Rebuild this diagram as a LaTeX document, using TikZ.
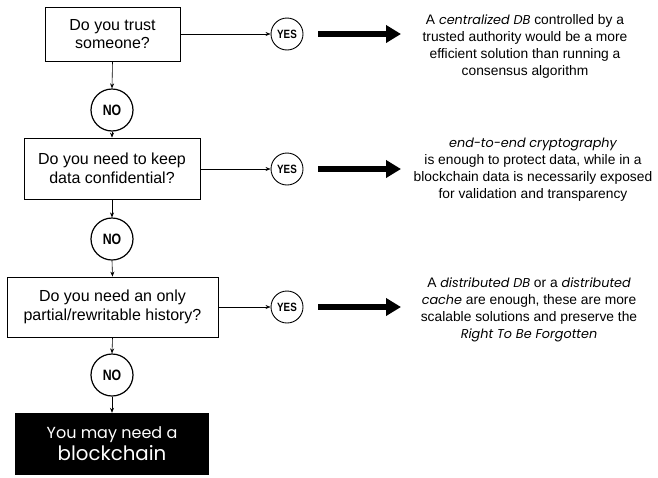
\documentclass[tikz,border=0pt]{standalone}
\usepackage{fontspec}
\setmainfont{Liberation Sans}
\newfontfamily\roundfont{Poppins}
\newfontfamily\condfont[FakeStretch=0.82]{Liberation Sans}
\usetikzlibrary{arrows.meta}
\newcommand{\rit}[1]{{\roundfont\itshape\fontsize{12.8}{17}\selectfont #1}}
\tikzset{
  question/.style={draw=black, line width=0.8pt, align=center, inner sep=0pt,
    font=\fontsize{16}{18.5}\selectfont},
  nobubble/.style={draw=black, circle, line width=1.2pt, minimum size=42pt, inner sep=0pt,
    font=\condfont\bfseries\fontsize{15}{15}\selectfont},
  yesbubble/.style={draw=black, circle, line width=0.9pt, minimum size=32pt, inner sep=0pt,
    font=\condfont\bfseries\fontsize{12}{12}\selectfont},
  answer/.style={align=center, inner sep=0pt, font=\fontsize{13.8}{17}\selectfont},
  flow/.style={-{Stealth[length=5pt,width=4pt]}, line width=0.6pt},
  bigarrow/.style={-{Triangle[length=15pt,width=17pt]}, line width=6pt},
}
\begin{document}
\begin{tikzpicture}[x=1pt, y=-1pt]
  \useasboundingbox (0,0) rectangle (658,477);

  % questions
  \node[question, minimum width=135pt, minimum height=54pt] (q1) at (112.5,34) {Do you trust\\someone?};
  \node[question, minimum width=176pt, minimum height=61pt] (q2) at (112,168.5) {Do you need to keep\\data confidential?};
  \node[question, minimum width=211pt, minimum height=60pt] (q3) at (112.5,307) {Do you need an only\\partial/rewritable history?};

  % NO bubbles
  \node[nobubble] (n1) at (112,110) {NO};
  \node[nobubble] (n2) at (112,239) {NO};
  \node[nobubble] (n3) at (112,375) {NO};

  % final box
  \node[fill=black, minimum width=194pt, minimum height=62pt, inner sep=0pt, align=center,
        text=white, font=\roundfont] (fin) at (112,444)
        {{\fontsize{16}{20}\selectfont You may need a}\\[2pt]{\fontsize{19.8}{24}\selectfont blockchain}};

  % YES bubbles
  \node[yesbubble] (y1) at (287,34) {YES};
  \node[yesbubble] (y2) at (287,169) {YES};
  \node[yesbubble] (y3) at (287,307) {YES};

  % answers
  \node[answer] (a1) at (525,46) {A \rit{centralized DB} controlled by a\\trusted authority would be a more\\efficient solution than running a\\consensus algorithm};
  \node[answer] (a2) at (533,170) {\rit{end-to-end cryptography}\\is enough to protect data, while in a\\blockchain data is necessarily exposed\\for validation and transparency};
  \node[answer] (a3) at (529,310) {A \rit{distributed DB} or a \rit{distributed}\\\rit{cache} are enough, these are more\\scalable solutions and preserve the\\\rit{Right To Be Forgotten}};

  % arrow ends next to the answers
  \coordinate (t1) at (401,34);
  \coordinate (t2) at (401,169);
  \coordinate (t3) at (401,307);

  % vertical flow
  \draw[flow] (q1.south) -- (n1.north);
  \draw[flow] (n1.south) -- (q2.north);
  \draw[flow] (q2.south) -- (n2.north);
  \draw[flow] (n2.south) -- (q3.north);
  \draw[flow] (q3.south) -- (n3.north);
  \draw[flow] (n3.south) -- (fin.north);

  % horizontal flow
  \draw[flow] (q1.east) -- (y1.west);
  \draw[flow] (q2.east |- y2.west) -- (y2.west);
  \draw[flow] (q3.east) -- (y3.west);

  \draw[bigarrow] ([xshift=15pt]y1.east) -- (t1);
  \draw[bigarrow] ([xshift=15pt]y2.east) -- (t2);
  \draw[bigarrow] ([xshift=15pt]y3.east) -- (t3);
\end{tikzpicture}
\end{document}
